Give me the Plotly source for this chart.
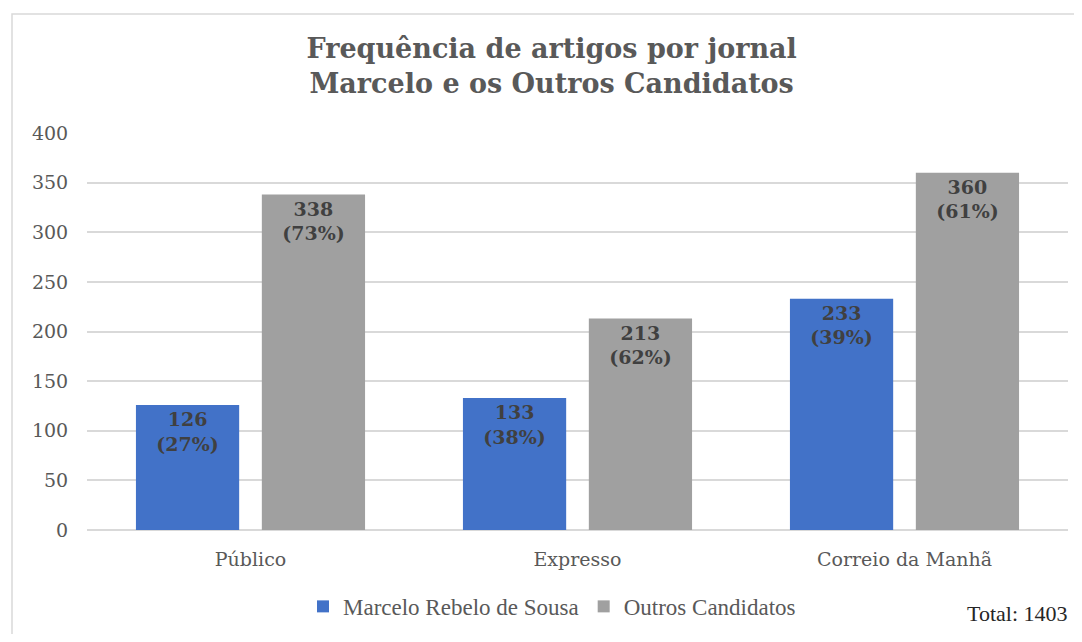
import plotly.graph_objects as go

categories = ["Público", "Expresso", "Correio da Manhã"]
marcelo = [126, 133, 233]
marcelo_pct = ["27%", "38%", "39%"]
outros = [338, 213, 360]
outros_pct = ["73%", "62%", "61%"]
y_ticks = [0, 50, 100, 150, 200, 250, 300, 350, 400]
total_label = "Total: 1403"

serif = "Liberation Serif"
wide = "DejaVu Serif"

def labels(vals, pcts):
    return [f"{v}<br>({p})" for v, p in zip(vals, pcts)]

W, H = 1066, 626  # page adds 8px body margin

fig = go.Figure()
fig.add_trace(go.Bar(
    name="Marcelo Rebelo de Sousa", x=categories, y=marcelo,
    text=labels(marcelo, marcelo_pct), textposition="inside", insidetextanchor="end",
    textfont=dict(family=wide, size=19, color="#404040", weight="bold"),
    marker=dict(color="#4272c8", line=dict(width=0)),
))
fig.add_trace(go.Bar(
    name="Outros Candidatos", x=categories, y=outros,
    text=labels(outros, outros_pct), textposition="inside", insidetextanchor="end",
    textfont=dict(family=wide, size=19, color="#404040", weight="bold"),
    marker=dict(color="#a0a0a0", line=dict(width=0)),
))

fig.update_layout(
    width=W, height=H,
    paper_bgcolor="white", plot_bgcolor="white",
    margin=dict(l=79, r=6, t=125, b=100),
    barmode="group", bargap=0.23, bargroupgap=0.18,
    title=dict(
        text="<b>Frequência de artigos por jornal<br>Marcelo e os Outros Candidatos</b>",
        x=0.51, xanchor="center", y=1 - 50 / H, yanchor="top", yref="container",
        font=dict(family=wide, size=27, color="#595959"),
    ),
    font=dict(family=serif, color="#595959"),
    showlegend=True,
    legend=dict(
        orientation="h", x=0.474, xanchor="center", y=-0.1925, yanchor="middle",
        font=dict(family=serif, size=23, color="#595959"),
        itemwidth=30, traceorder="normal",
    ),
)
fig.update_xaxes(
    showgrid=False, showline=False, zeroline=False,
    tickfont=dict(family=wide, size=19, color="#595959"),
    ticks="outside", ticklen=12, tickcolor="rgba(0,0,0,0)",
)
fig.update_yaxes(
    range=[0, 400], tickvals=y_ticks, showgrid=True, gridcolor="#d9d9d9", gridwidth=1.5,
    zeroline=True, zerolinecolor="#d9d9d9", zerolinewidth=1.5, showline=False,
    tickfont=dict(family=wide, size=19, color="#595959"),
    ticks="outside", ticklen=14, tickcolor="rgba(0,0,0,0)",
)
fig.add_annotation(
    text=total_label, xref="paper", yref="paper", x=1.002, y=-0.21,
    xanchor="right", yanchor="middle", showarrow=False,
    font=dict(family=serif, size=22, color="#262626"),
)
# outer chart border
fig.add_shape(
    type="rect", xref="paper", yref="paper",
    x0=-75 / 981, x1=1.2, y0=-0.5, y1=1 + 120 / 400,
    line=dict(color="#d9d9d9", width=1.5), fillcolor="rgba(0,0,0,0)", layer="below",
)
fig.write_html("out.html")
